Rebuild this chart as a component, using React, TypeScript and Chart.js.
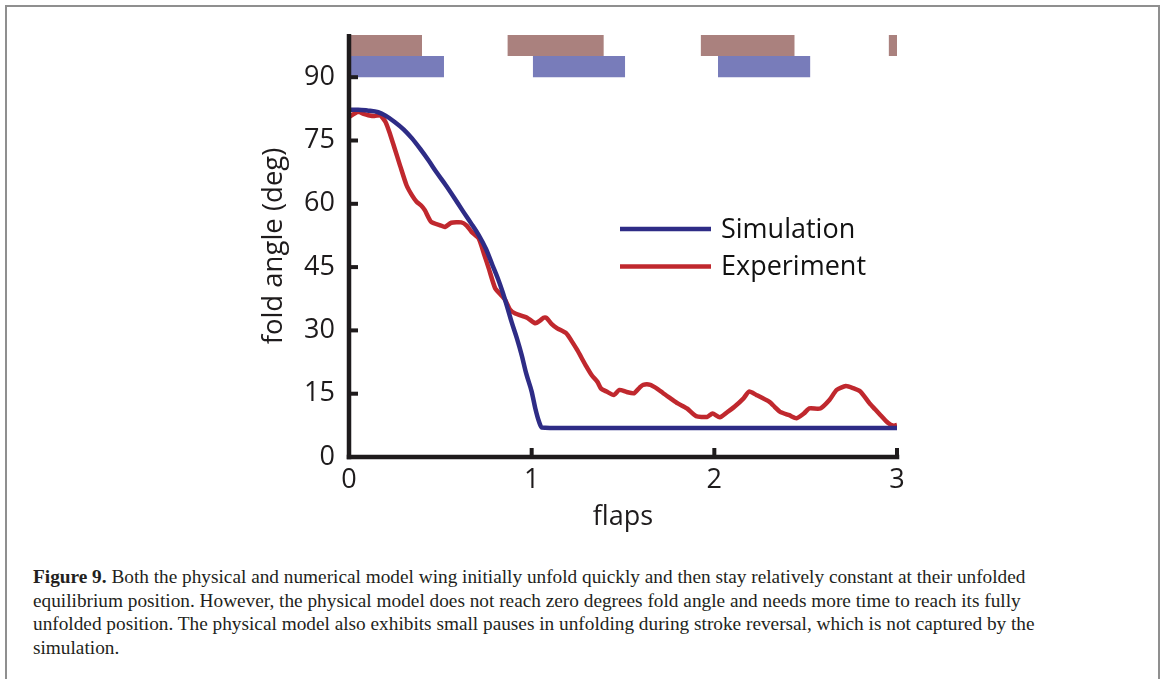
import { useEffect, useRef } from 'react';
import { Chart, registerables } from 'chart.js';

Chart.register(...registerables);

// ---------- data ----------
const simFlaps = [0, 0.05, 0.1, 0.16, 0.2, 0.25, 0.3, 0.345, 0.39, 0.435, 0.48, 0.53, 0.575, 0.62, 0.665, 0.71, 0.75, 0.785, 0.815, 0.84, 0.865, 0.89, 0.92, 0.945, 0.97, 1.0, 1.02, 1.04, 1.055, 1.1, 1.5, 2.0, 2.5, 3.0];
const simAngle = [82.3, 82.3, 82.1, 81.7, 80.9, 79.4, 77.6, 75.5, 73.0, 70.3, 67.4, 64.4, 61.5, 58.5, 55.6, 52.6, 49.3, 45.5, 42.3, 39.2, 35.7, 32.0, 28.0, 24.2, 19.8, 15.5, 11.5, 8.4, 7.0, 6.9, 6.9, 6.9, 6.9, 6.9];

const expFlaps = [0, 0.05, 0.08, 0.105, 0.14, 0.17, 0.2, 0.225, 0.25, 0.28, 0.315, 0.345, 0.37, 0.395, 0.415, 0.45, 0.5, 0.525, 0.56, 0.615, 0.645, 0.67, 0.71, 0.74, 0.765, 0.8, 0.83, 0.855, 0.88, 0.91, 0.975, 1.02, 1.045, 1.065, 1.08, 1.11, 1.14, 1.19, 1.22, 1.25, 1.3, 1.33, 1.36, 1.38, 1.41, 1.45, 1.48, 1.52, 1.56, 1.59, 1.61, 1.65, 1.69, 1.72, 1.76, 1.8, 1.85, 1.9, 1.96, 1.99, 2.03, 2.07, 2.11, 2.16, 2.19, 2.23, 2.3, 2.33, 2.36, 2.41, 2.45, 2.49, 2.52, 2.58, 2.63, 2.67, 2.72, 2.76, 2.8, 2.85, 2.88, 2.91, 2.95, 2.98, 3.0];
const expAngle = [80.6, 81.8, 81.3, 81.0, 80.8, 81.0, 79.4, 76.5, 73.1, 69.0, 64.4, 62.0, 60.5, 59.6, 58.5, 55.7, 54.9, 54.5, 55.5, 55.6, 54.8, 53.4, 51.8, 48.0, 44.7, 40.0, 38.5, 37.2, 35.0, 34.0, 33.0, 31.7, 32.3, 33.0, 33.0, 31.5, 30.5, 29.3, 27.4, 25.3, 21.4, 19.3, 17.8, 16.2, 15.5, 14.7, 15.9, 15.4, 15.1, 16.4, 17.1, 17.1, 16.1, 15.1, 13.9, 12.7, 11.5, 9.7, 9.5, 10.3, 9.4, 10.6, 11.9, 13.9, 15.5, 14.7, 13.1, 11.9, 10.7, 9.9, 9.2, 10.3, 11.5, 11.5, 13.5, 15.9, 16.8, 16.3, 15.5, 12.7, 11.3, 9.9, 8.1, 7.4, 7.6];

// phase bars along the top: [start flap, end flap]
const brownBars = [[0, 0.4], [0.867, 1.395], [1.925, 2.44], [2.954, 3.0]];
const blueBars = [[0, 0.52], [1.006, 1.512], [2.02, 2.526]];
const brownBand = [95, 100];
const blueBand = [90, 95];

const xTicks = [0, 1, 2, 3];
const yTicks = [0, 15, 30, 45, 60, 75, 90];
const seriesLabels = ['Simulation', 'Experiment'];
const xTitle = 'flaps';
const yTitle = 'fold angle (deg)';

const captionBold = 'Figure 9.';
const captionLines = [
  ' Both the physical and numerical model wing initially unfold quickly and then stay relatively constant at their unfolded',
  'equilibrium position. However, the physical model does not reach zero degrees fold angle and needs more time to reach its fully',
  'unfolded position. The physical model also exhibits small pauses in unfolding during stroke reversal, which is not captured by the',
  'simulation.',
];

// ---------- styles ----------
const simColor = '#2e2c86';
const expColor = '#c0282e';
const brownColor = '#aa817e';
const blueColor = '#787cba';
const axisColor = '#1e1b1c';
const FONT = "'Open Sans', sans-serif";

export default function App() {
  const ref = useRef<HTMLCanvasElement>(null);

  useEffect(() => {
    const canvas = ref.current!;
    const colors = [simColor, expColor];

    const boldAxes = {
      id: 'boldAxes',
      afterDatasetsDraw(chart: any) {
        const ctx = chart.ctx;
        const xs = chart.scales.x;
        const ys = chart.scales.y;
        const { left, right, top, bottom } = chart.chartArea;
        const w = 4.5;
        ctx.save();
        ctx.fillStyle = axisColor;
        // axis lines
        ctx.fillRect(left - w / 2, top - 1, w, bottom - top + 1 + w / 2);
        ctx.fillRect(left - w / 2, bottom - w / 2, right - left + w, w);
        // inward ticks
        yTicks.forEach((v) => {
          const py = ys.getPixelForValue(v);
          ctx.fillRect(left, py - 2, 9, 4);
        });
        xTicks.forEach((v) => {
          const px = xs.getPixelForValue(v);
          ctx.fillRect(px - 2, bottom - 9, 4, 9);
        });
        ctx.restore();
      },
    };

    const inlineLegend = {
      id: 'inlineLegend',
      afterDatasetsDraw(chart: any) {
        const ctx = chart.ctx;
        ctx.save();
        const rowsY = [229, 266.5];
        seriesLabels.forEach((label, i) => {
          ctx.strokeStyle = colors[i];
          ctx.lineWidth = 4.5;
          ctx.beginPath();
          ctx.moveTo(620, rowsY[i]);
          ctx.lineTo(711, rowsY[i]);
          ctx.stroke();
          ctx.fillStyle = '#111';
          ctx.font = `27px ${FONT}`;
          ctx.textBaseline = 'middle';
          ctx.textAlign = 'left';
          ctx.fillText(label, 721, rowsY[i] + 1);
        });
        ctx.restore();
      },
    };

    const barSet = (bars: number[][], band: number[], color: string) =>
      bars.map(([a, b]) => ({
        type: 'line' as const,
        data: [{ x: a, y: band[1] }, { x: b, y: band[1] }],
        fill: { value: band[0] },
        backgroundColor: color,
        borderWidth: 0,
        borderColor: 'rgba(0,0,0,0)',
        pointRadius: 0,
      }));

    const datasets: any[] = [
      ...barSet(brownBars, brownBand, brownColor),
      ...barSet(blueBars, blueBand, blueColor),
      {
        label: seriesLabels[0],
        data: simFlaps.map((x, i) => ({ x, y: simAngle[i] })),
        borderColor: simColor,
        borderWidth: 4.5,
        pointRadius: 0,
        fill: false,
        cubicInterpolationMode: 'monotone',
        borderJoinStyle: 'round',
      },
      {
        label: seriesLabels[1],
        data: expFlaps.map((x, i) => ({ x, y: expAngle[i] })),
        borderColor: expColor,
        borderWidth: 4.5,
        pointRadius: 0,
        fill: false,
        tension: 0.2,
        borderJoinStyle: 'round',
      },
    ];

    const tickFont = { family: FONT, size: 27 };
    const chart = new Chart(canvas, {
      type: 'line',
      data: { datasets },
      plugins: [boldAxes, inlineLegend],
      options: {
        responsive: false,
        animation: false,
        devicePixelRatio: 1,
        layout: { padding: { top: 35, right: 271, left: 0, bottom: 0 } },
        plugins: { legend: { display: false }, tooltip: { enabled: false } },
        scales: {
          x: {
            type: 'linear',
            min: 0,
            max: 3,
            afterBuildTicks: (s: any) => { s.ticks = xTicks.map((v) => ({ value: v })); },
            afterFit: (s: any) => { s.height = 88; },
            ticks: { font: tickFont, color: axisColor, padding: 7, maxRotation: 0 },
            grid: { display: false, drawTicks: false, tickLength: 0 },
            border: { display: false },
            title: { display: true, text: xTitle, font: tickFont, color: axisColor, padding: { top: 0, bottom: 11 } },
          },
          y: {
            type: 'linear',
            min: 0,
            max: 100,
            afterBuildTicks: (s: any) => { s.ticks = yTicks.map((v) => ({ value: v })); },
            afterFit: (s: any) => { s.width = 349; },
            ticks: { font: tickFont, color: axisColor, padding: 14 },
            grid: { display: false, drawTicks: false, tickLength: 0 },
            border: { display: false },
            title: { display: true, text: yTitle, font: { family: FONT, size: 27.5 }, color: axisColor, padding: { top: 258, bottom: 0 } },
          },
        },
      } as any,
    });
    return () => chart.destroy();
  }, []);

  return (
    <div style={{ position: 'fixed', left: 0, top: 0, width: 1168, height: 679, overflow: 'hidden', background: '#fff' }}>
      <div
        style={{
          position: 'absolute', left: 5, top: 5, width: 1155, height: 720,
          border: '2px solid #8f8f8f', boxSizing: 'border-box',
        }}
      />
      <canvas ref={ref} width={1168} height={545} style={{ position: 'absolute', left: 0, top: 0, width: 1168, height: 545 }} />
      <div
        style={{
          position: 'absolute', left: 33, top: 565, whiteSpace: 'nowrap',
          fontFamily: "'Liberation Serif', serif", fontSize: 19.3, lineHeight: '23.7px', color: '#231f20',
        }}
      >
        <b>{captionBold}</b>{captionLines[0]}<br />
        {captionLines[1]}<br />
        {captionLines[2]}<br />
        {captionLines[3]}
      </div>
    </div>
  );
}
